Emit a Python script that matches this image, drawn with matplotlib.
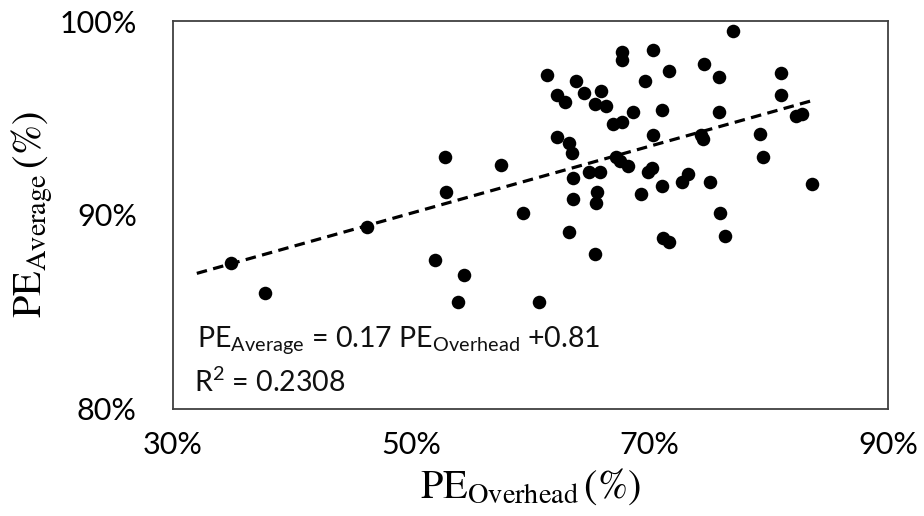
import numpy as np
import matplotlib
matplotlib.use("Agg")
import matplotlib.pyplot as plt

plt.rcParams['mathtext.fontset'] = 'custom'
plt.rcParams['mathtext.rm'] = 'Lato'
plt.rcParams['mathtext.it'] = 'Lato:italic'

# PE overhead (%) vs PE average (%)
pe_overhead = [34.9, 37.7, 46.3, 52.8, 52.9, 52.0, 54.4, 53.9, 57.5, 59.4,
               60.7, 61.4, 63.8, 62.2, 62.9, 64.5, 65.9, 65.4, 66.3, 67.7,
               67.7, 69.6, 68.6, 66.9, 67.7, 62.2, 63.2, 63.5, 67.2, 67.5,
               68.2, 63.6, 64.9, 65.8, 63.6, 65.6, 65.5, 69.3, 63.2, 65.4,
               77.0, 70.3, 74.6, 75.8, 71.6, 81.0, 81.0, 71.0, 75.8, 70.3,
               74.3, 74.5, 79.3, 79.5, 69.9, 70.2, 71.0, 73.2, 72.7, 75.1,
               75.9, 76.3, 71.1, 71.6, 82.3, 82.8, 83.6]
pe_average = [87.5, 86.0, 89.4, 93.0, 91.2, 87.7, 86.9, 85.5, 92.6, 90.1,
              85.5, 97.2, 96.9, 96.2, 95.8, 96.3, 96.4, 95.7, 95.6, 98.4,
              98.0, 96.9, 95.3, 94.7, 94.8, 94.0, 93.7, 93.2, 93.0, 92.8,
              92.5, 91.9, 92.2, 92.2, 90.8, 91.2, 90.6, 91.1, 89.1, 88.0,
              99.5, 98.5, 97.8, 97.1, 97.4, 97.3, 96.2, 95.4, 95.3, 94.1,
              94.1, 93.9, 94.2, 93.0, 92.2, 92.4, 91.5, 92.1, 91.7, 91.7,
              90.1, 88.9, 88.8, 88.6, 95.1, 95.2, 91.6]

trend_range = [32.0, 83.7]
x_ticks = [30, 50, 70, 90]
y_ticks = [80, 90, 100]
equation = r'PE$_{\mathrm{Average}}$ = 0.17 PE$_{\mathrm{Overhead}}$ +0.81'
r2_text = r'R$^{\mathrm{2}}$ = 0.2308'

fig = plt.figure(figsize=(9.24, 5.16), dpi=100)
ax = fig.add_axes([0.1872, 0.2074, 0.7738, 0.7519])

ax.scatter(pe_overhead, pe_average, s=95, color='black', zorder=3, linewidths=0)

slope, intercept = np.polyfit(pe_overhead, pe_average, 1)
tx = np.array(trend_range)
ax.plot(tx, slope * tx + intercept, color='black', lw=2.3, dashes=(3.3, 2.0), zorder=2)

ax.set_xlim(30, 90)
ax.set_ylim(80, 100)
ax.set_xticks(x_ticks)
ax.set_xticklabels([f'{t}%' for t in x_ticks], fontsize=22, family='Lato')
ax.set_yticks(y_ticks)
ax.set_yticklabels([f'{t}%' for t in y_ticks], fontsize=22, family='Lato')
ax.tick_params(axis='x', length=0, pad=16)
ax.tick_params(axis='y', length=0, pad=26)
for sp in ax.spines.values():
    sp.set_color('#404040')
    sp.set_linewidth(1.3)

ax.set_xlabel(r'$\mathrm{PE}_{\mathrm{Overhead}}\,(\%)$', fontsize=29,
              math_fontfamily='stix', labelpad=5)
ax.set_ylabel(r'$\mathrm{PE}_{\mathrm{Average}}\,(\%)$', fontsize=29,
              math_fontfamily='stix', labelpad=3)

ax.text(0.034, 0.16, equation, transform=ax.transAxes, fontsize=20.5,
        family='Lato', math_fontfamily='custom', color='#111111', va='baseline')
ax.text(0.03, 0.044, r2_text, transform=ax.transAxes, fontsize=20.5,
        family='Lato', math_fontfamily='custom', color='#111111', va='baseline')

fig.savefig('out.png', dpi=100)
